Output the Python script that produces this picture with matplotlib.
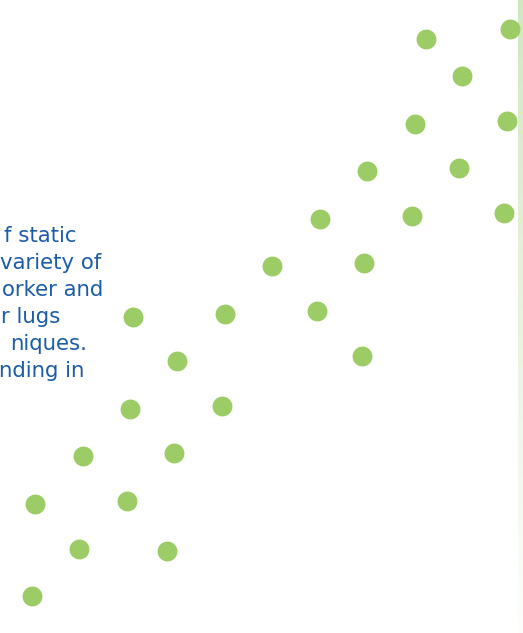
import numpy as np
import matplotlib
matplotlib.use("Agg")
import matplotlib.pyplot as plt

# dot pattern (pixel coords, y down)
dot_x = [426, 510, 462, 415, 507, 367, 459, 320, 412, 504, 272, 364, 225, 317,
         133, 177, 362, 130, 222, 83, 174, 35, 127, 79, 167, 32]
dot_y = [39, 29, 76, 124, 121, 171, 168, 219, 216, 213, 266, 263, 314, 311,
         317, 361, 356, 409, 406, 456, 453, 504, 501, 549, 551, 596]

# visible part of the clipped paragraph on the left
text_lines = ["f static", "variety of", "orker and", "r lugs", "niques.", "nding in"]
text_right = [77, 101, 103, 60, 87, 84]

DOT = "#9ccc65"
BLUE = "#1a5ca8"

fig = plt.figure(figsize=(5.23, 6.33), dpi=100)
ax = fig.add_axes([0, 0, 1, 1])
ax.set_xlim(0, 523)
ax.set_ylim(633, 0)
ax.axis("off")

# light green strip on the right edge, fading out downwards
grad = np.linspace(0, 1, 256).reshape(-1, 1, 1)
top = np.array([0.82, 0.91, 0.75]).reshape(1, 1, 3)
bottom = np.array([0.995, 0.998, 0.99]).reshape(1, 1, 3)
rgb = top * (1 - grad) + bottom * grad
ax.imshow(rgb, extent=[518, 523, 633, 0], aspect="auto", zorder=1)

ax.scatter(dot_x, dot_y, s=205, c=DOT, linewidths=0, zorder=3)

for i, (line, xr) in enumerate(zip(text_lines, text_right)):
    ax.text(xr, 242 + 27 * i, line, ha="right", va="baseline", color=BLUE,
            fontsize=15.3, family="DejaVu Sans", zorder=2)

ax.set_xlim(0, 523)
ax.set_ylim(633, 0)
fig.savefig("out.png", dpi=100)
